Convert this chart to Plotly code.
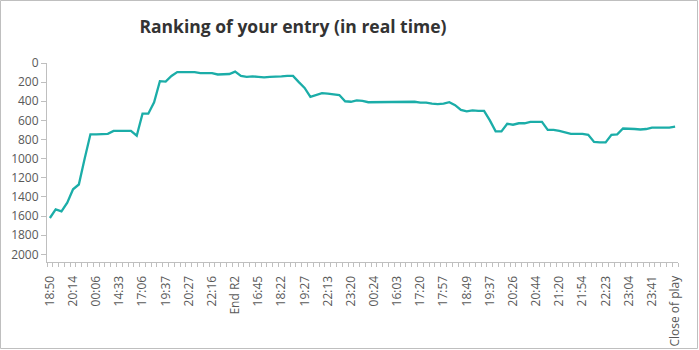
import plotly.graph_objects as go

# Ranking recorded at each update, 109 updates in order
ranking = [
    1620, 1530, 1550, 1460, 1320, 1270, 1000, 745, 745, 745,
    740, 710, 710, 710, 710, 760, 530, 530, 410, 190,
    195, 135, 95, 95, 95, 95, 105, 105, 105, 120,
    120, 115, 90, 135, 145, 140, 145, 150, 145, 145,
    140, 135, 135, 200, 260, 355, 335, 315, 320, 325,
    335, 400, 405, 390, 395, 410, 410, 410, 410, 410,
    410, 410, 410, 405, 415, 415, 425, 430, 425, 410,
    440, 490, 505, 495, 500, 500, 600, 715, 715, 635,
    645, 630, 630, 615, 615, 615, 700, 700, 710, 725,
    740, 740, 740, 750, 825, 830, 830, 750, 745, 685,
    685, 690, 695, 690, 675, 675, 675, 675, 665,
]

# Every fourth update carries a label on the time axis
tick_labels = [
    "18:50", "20:14", "00:06", "14:33", "17:06", "19:37", "20:27", "22:16",
    "End R2", "16:45", "18:22", "19:27", "22:13", "23:20", "00:24", "16:03",
    "17:20", "17:57", "18:49", "19:37", "20:26", "20:44", "21:20", "21:54",
    "22:23", "23:04", "23:41", "Close of play",
]
tick_step = 4

y_ticks = list(range(0, 2001, 200))

updates = list(range(len(ranking)))
tick_positions = updates[::tick_step]

FONT = "Open Sans, Noto Sans, DejaVu Sans, sans-serif"
GREY_TEXT = "#595959"
AXIS_GREY = "#BFBFBF"

W, H = 699, 350
ML, MR, MT, MB = 47, 21, 63, 88
PW, PH = W - ML - MR, H - MT - MB

fig = go.Figure(
    go.Scatter(
        x=updates,
        y=ranking,
        mode="lines",
        line=dict(color="#1BADA8", width=2.3),
        hoverinfo="y",
    )
)

fig.update_layout(
    width=W,
    height=H,
    margin=dict(l=ML, r=MR, t=MT, b=MB, autoexpand=False),
    paper_bgcolor="white",
    plot_bgcolor="white",
    showlegend=False,
    font=dict(family=FONT, color=GREY_TEXT, size=12),
    title=dict(
        text="<b>Ranking of your entry (in real time)</b>",
        font=dict(family=FONT, size=17.5, color="#333333"),
        xref="container",
        x=293 / W,
        xanchor="center",
        yref="container",
        y=1 - 27 / H,
        yanchor="middle",
    ),
    xaxis=dict(
        range=[-0.5, len(ranking) - 0.5],
        automargin=False,
        tickmode="array",
        tickvals=tick_positions,
        ticktext=tick_labels,
        tickangle=-90,
        ticks="",
        ticklabelstandoff=8,
        showgrid=False,
        zeroline=False,
        showline=True,
        linecolor=AXIS_GREY,
        linewidth=1,
        tickfont=dict(size=12, color=GREY_TEXT),
        minor=dict(
            tickmode="linear",
            tick0=-0.5,
            dtick=1,
            ticks="outside",
            ticklen=4,
            tickcolor=AXIS_GREY,
            tickwidth=1,
            showgrid=False,
        ),
    ),
    yaxis=dict(
        range=[2080, 0],
        automargin=False,
        tickmode="array",
        tickvals=y_ticks,
        ticks="outside",
        ticklen=5,
        tickcolor=AXIS_GREY,
        showgrid=False,
        zeroline=False,
        showline=True,
        linecolor=AXIS_GREY,
        linewidth=1,
        tickfont=dict(size=12, color=GREY_TEXT),
    ),
    shapes=[
        dict(
            type="rect",
            xref="paper",
            yref="paper",
            x0=(0.5 - ML) / PW,
            x1=(W - 1.5 - ML) / PW,
            y0=(PH + MT - (H - 1.5)) / PH,
            y1=(PH + MT - 0.5) / PH,
            line=dict(color=AXIS_GREY, width=1),
            fillcolor="rgba(0,0,0,0)",
            layer="below",
        )
    ],
)

fig.write_html("out.html")
